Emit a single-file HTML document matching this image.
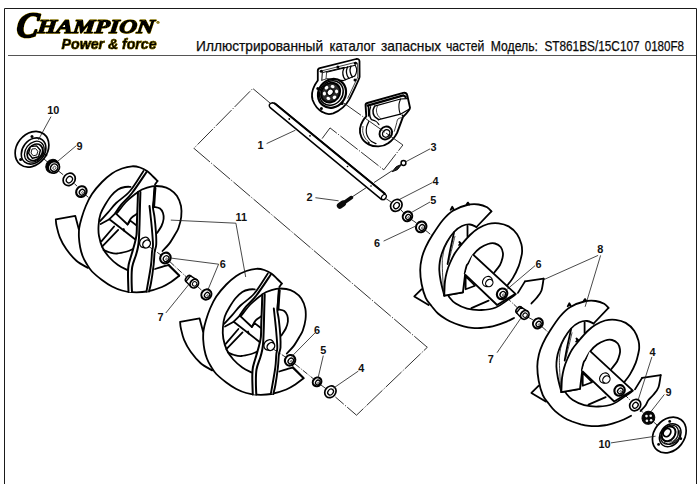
<!DOCTYPE html>
<html lang="ru">
<head>
<meta charset="utf-8">
<title>Иллюстрированный каталог запасных частей</title>
<style>
html,body{margin:0;padding:0;background:#fff;}
body{width:700px;height:484px;overflow:hidden;position:relative;font-family:"Liberation Sans",sans-serif;}
svg{position:absolute;left:0;top:0;display:block;}
.ln{fill:none;stroke:#000;stroke-width:1.8;stroke-linecap:round;stroke-linejoin:round;}
.w{fill:#fff;stroke:#000;stroke-width:1.8;stroke-linejoin:round;}
.th{fill:none;stroke:#111;stroke-width:.8;}
.dd{fill:none;stroke:#1a1a1a;stroke-width:.9;stroke-dasharray:22 1.6 1.2 1.6;}
.ax{fill:none;stroke:#1a1a1a;stroke-width:.9;stroke-dasharray:6 1.5 1 1.5;}
.lbl{font-family:"Liberation Sans",sans-serif;font-weight:bold;font-size:10.9px;fill:#111;}
.ld path{fill:none;stroke:#1a1a1a;stroke-width:.8;}
</style>
</head>
<body>
<svg width="700" height="484" viewBox="0 0 700 484">
<!-- FRAME -->
<g id="frame">
<path d="M4.5 484V8.5H696.5V484" fill="none" stroke="#1a1a1a" stroke-width="1"/>
<path d="M8 55.5H696" fill="none" stroke="#555" stroke-width="1"/>
</g>
<!-- LOGO -->
<defs>
<filter id="yglow" x="-5%" y="-20%" width="110%" height="140%">
<feMorphology in="SourceAlpha" operator="dilate" radius=".3" result="d"/>
<feFlood flood-color="#e0c000" flood-opacity=".85" result="c"/>
<feComposite in="c" in2="d" operator="in" result="g"/>
<feMerge><feMergeNode in="g"/><feMergeNode in="SourceGraphic"/></feMerge>
</filter>
</defs>
<g id="logo" filter="url(#yglow)" fill="#000" stroke="#000" stroke-linejoin="round" aria-label="CHAMPION Power &amp; force">
<title>CHAMPION Power &amp; force</title>
<text transform="translate(15.8 37.2) skewX(-6)" font-family="'Liberation Serif',serif" font-weight="bold" font-style="italic"><tspan x="0" y="0" font-size="35.5" stroke-width="2" textLength="22" lengthAdjust="spacingAndGlyphs">C</tspan><tspan x="20.8" y="-4" font-size="19.6" stroke-width="1.3" textLength="117" lengthAdjust="spacingAndGlyphs">HAMPION</tspan></text>
<text x="156.5" y="23.6" font-family="'Liberation Sans',sans-serif" font-size="4.2" stroke-width=".2">®</text>
<text x="61.6" y="49" font-family="'Liberation Sans',sans-serif" font-weight="bold" font-style="italic" font-size="14.2" stroke-width=".7" textLength="95" lengthAdjust="spacingAndGlyphs">Power &amp; force</text>
</g>
<!-- TITLE -->
<text y="51" font-family="'Liberation Sans',sans-serif" font-size="14.2" fill="#0a0a0a" stroke="#0a0a0a" stroke-width=".25"><tspan x="196.1" textLength="127" lengthAdjust="spacingAndGlyphs">Иллюстрированный</tspan> <tspan x="329.6" textLength="45.9" lengthAdjust="spacingAndGlyphs">каталог</tspan> <tspan x="381.1" textLength="60" lengthAdjust="spacingAndGlyphs">запасных</tspan> <tspan x="445.9" textLength="38.4" lengthAdjust="spacingAndGlyphs">частей</tspan> <tspan x="490.8" textLength="47.2" lengthAdjust="spacingAndGlyphs">Модель:</tspan> <tspan x="544.4" textLength="95.2" lengthAdjust="spacingAndGlyphs">ST861BS/15C107</tspan> <tspan x="644.7" textLength="39.3" lengthAdjust="spacingAndGlyphs">0180F8</tspan></text>
<!-- DRAWING -->
<g id="drawing">
<g id="construction">
<path class="dd" d="M270 103L252.8 88.5L193.9 148.3L427.3 347.3L356.5 415.2L335.4 397"/>
<path class="dd" d="M322.1 138.6L330 127.9L383.8 169.8L402.9 145"/>
<path class="dd" d="M352 197L392.4 170.5"/>
<path class="ax" d="M44 159L48.5 162.8"/>
<path class="ax" d="M58.5 171L64 175.4"/>
<path class="ax" d="M74.5 183.8L77.2 186.2"/>
<path class="ax" d="M85.6 195L88.5 197.4"/>
<path class="ax" d="M149 246.6L161 255"/>
<path class="ax" d="M170 261.8L186 276.6"/>
<path class="ax" d="M197 286L202.2 290.8"/>
<path class="ax" d="M273.5 349.2L286 357.4"/>
<path class="ax" d="M295 364L313.4 378.8"/>
<path class="ax" d="M321 385L325.6 388.4"/>
<path class="ax" d="M386 198.6L391 202"/>
<path class="ax" d="M400.5 209.4L403.6 212.8"/>
<path class="ax" d="M411.5 219.6L417 223.4"/>
<path class="ax" d="M425.6 230.4L433 236.4"/>
<path class="ax" d="M492 285.8L498 290.4"/>
<path class="ax" d="M506.5 297.4L517 307.4"/>
<path class="ax" d="M527.6 317L534 320.4"/>
<path class="ax" d="M542 326.8L548 332"/>
<path class="ax" d="M608.5 381.6L615.5 387"/>
<path class="ax" d="M624 394L630.6 400.6"/>
<path class="ax" d="M640 409.4L643 412.6"/>
<path class="ax" d="M654 422.4L657.4 425.2"/>
</g>
<g id="auger1"><path class="w" d="M75.3 215.9C75.9 218.1 78.2 226 78.8 229.3C79.4 232.7 78.6 233.1 78.8 236C79 238.9 79.4 243.7 80 247C80.6 250.3 81.2 252.5 82.5 256C83.8 259.5 87 265.9 87.9 267.9L87.9 267.9C86 266.7 80 263.8 76.4 260.7C72.8 257.6 69.2 253.2 66.4 249.3C63.6 245.4 61.4 241.3 59.8 237.4C58.2 233.5 57.3 229 56.6 226C55.9 223 55.9 220.4 55.8 219.3Z" style="stroke:none"/>
<path class="ln" d="M87.9 267.9C86 266.7 80 263.8 76.4 260.7C72.8 257.6 69.2 253.2 66.4 249.3C63.6 245.4 61.4 241.3 59.8 237.4C58.2 233.5 57.3 229 56.6 226C55.9 223 55.9 220.4 55.8 219.3L75.3 215.9L78.8 229.3"/>
<path class="w" d="M157.5 181C156.8 180.2 154.8 178.2 153 176.5C151.2 174.8 149.2 172.5 147 171C144.8 169.5 142.5 168.3 140 167.5C137.5 166.7 135 166.1 132 166.3C129 166.5 125.3 167.3 122 168.5C118.7 169.7 115.3 171.2 112 173.5C108.7 175.8 105.3 178.6 102 182C98.7 185.4 94.7 190 92 194C89.3 198 87.5 202 85.8 206C84.1 210 82.7 214.3 81.6 218C80.5 221.7 79.7 224.8 79.2 228C78.8 231.2 78.8 233.8 78.9 237C79.1 240.2 79.5 243.8 80.1 247C80.7 250.2 81.5 253.2 82.6 256C83.6 258.8 84.8 260.9 86.4 263.5C88 266.1 89.4 268.8 92 271.5C94.6 274.2 98.7 277.5 102 280C105.3 282.5 108.7 284.8 112 286.5C115.3 288.2 118.7 289.6 122 290.5C125.3 291.4 127.8 292 132 292.2C136.2 292.4 142 292.4 147 291.5C152 290.6 158 288.6 162 287C166 285.4 168.1 283.9 171 282C173.9 280.1 177.9 276.8 179.3 275.7 L168.6 265 L168.6 265C167.5 265.3 164.6 266 162 266.8C159.4 267.6 156.7 268.9 153 269.6C149.3 270.3 144.2 270.9 140 271C135.8 271.1 131.2 271 127.5 270C123.8 269 121.1 267.2 118 265C114.9 262.8 111.6 259.9 109 257C106.4 254.1 104.2 251 102.5 247.5C100.8 244 99.7 239.8 99 236C98.3 232.2 98.3 228.7 98.6 225C98.8 221.3 99.4 217.3 100.5 214C101.6 210.7 103.2 208 105 205C106.8 202 108.8 198.6 111 196C113.2 193.4 115.7 191 118 189.5C120.3 188 122.9 187.4 125 187C127.1 186.6 129.6 186.8 130.5 186.8 L155 184.5Z" style="stroke:none"/>
<path class="ln" d="M157.5 181C156.8 180.2 154.8 178.2 153 176.5C151.2 174.8 149.2 172.5 147 171C144.8 169.5 142.5 168.3 140 167.5C137.5 166.7 135 166.1 132 166.3C129 166.5 125.3 167.3 122 168.5C118.7 169.7 115.3 171.2 112 173.5C108.7 175.8 105.3 178.6 102 182C98.7 185.4 94.7 190 92 194C89.3 198 87.5 202 85.8 206C84.1 210 82.7 214.3 81.6 218C80.5 221.7 79.7 224.8 79.2 228C78.8 231.2 78.8 233.8 78.9 237C79.1 240.2 79.5 243.8 80.1 247C80.7 250.2 81.5 253.2 82.6 256C83.6 258.8 84.8 260.9 86.4 263.5C88 266.1 89.4 268.8 92 271.5C94.6 274.2 98.7 277.5 102 280C105.3 282.5 108.7 284.8 112 286.5C115.3 288.2 118.7 289.6 122 290.5C125.3 291.4 127.8 292 132 292.2C136.2 292.4 142 292.4 147 291.5C152 290.6 158 288.6 162 287C166 285.4 168.1 283.9 171 282C173.9 280.1 177.9 276.8 179.3 275.7L168.6 265"/>
<path class="ln" d="M168.6 265C167.5 265.3 164.3 266.1 162 266.8C159.7 267.5 156.2 268.6 155 269"/>
<path class="ln" d="M127.5 270C125.9 269.2 121.1 267.2 118 265C114.9 262.8 111.6 259.9 109 257C106.4 254.1 104.2 251 102.5 247.5C100.8 244 99.7 239.8 99 236C98.3 232.2 98.3 228.7 98.6 225C98.8 221.3 99.4 217.3 100.5 214C101.6 210.7 103.2 208 105 205C106.8 202 108.8 198.6 111 196C113.2 193.4 115.7 191 118 189.5C120.3 188 122.9 187.4 125 187C127.1 186.6 129.6 186.8 130.5 186.8"/>
<path class="ln" d="M157.5 181L155 184.5"/>
<path class="ln" d="M103.5 250C104.6 250.4 107.8 251.9 110 252.5C112.2 253.1 114.2 253.7 117 253.5C119.8 253.3 124.3 252.2 127 251.5C129.7 250.8 132 249.4 133 249"/>
<path class="ln" d="M143.5 171C141.2 174.3 134.6 185.7 130 191C125.5 196.3 119.9 199.4 116.2 203C112.5 206.6 110.8 209.4 108.1 212.4C105.4 215.4 101.3 219.7 100 221.2"/>
<path class="ln" d="M146.5 172C144.1 175.5 136.2 187.6 132 193C127.8 198.4 124.2 201.1 121.5 204.4C118.8 207.7 116.5 211.4 115.5 212.8" style="stroke-width:2"/>
<path class="ln" d="M109.4 219.2L100.7 224"/>
<path class="ln" d="M127.6 224.5L115.5 213.1L109.4 219.2L135 239.3"/>
<path class="ln" d="M127.6 224.5L130.3 220.6L136.3 225.2"/>
<path class="ln" d="M128 223.6C128.6 222.6 129.9 219.4 131.4 217.8C132.9 216.2 136.1 214.5 137 213.8"/>
<path class="ln" d="M123.7 229L124.4 231" style="stroke-width:1.8"/>
<path class="ln" d="M101.4 241.3L114.1 226.5"/>
<path class="ln" d="M102.1 246.7L118.2 229.9"/>
<path class="ln" d="M117 213C118.5 211.2 123.2 205 126 202C128.8 199 131.3 197.1 134 195C136.7 192.9 139 190.9 142 189.5C145 188.1 148.7 186.8 152 186.3C155.3 185.8 159 186 162 186.5C165 187 167.5 187.9 170 189.5C172.5 191.1 175.2 193.2 177 196C178.8 198.8 180.3 202.5 181 206C181.7 209.5 181.6 213.3 181.2 217C180.8 220.7 179.5 225.1 178.5 228C177.5 230.9 176.5 231.9 175 234.5C173.5 237.1 171.4 240.8 169.3 243.6C167.2 246.3 163.6 249.8 162.5 251"/>
<path class="ln" d="M154.5 207C155.4 207.2 158.6 207.5 160 208.5C161.4 209.5 162.4 211.2 163 213C163.6 214.8 163.8 216.8 163.6 219C163.3 221.2 162.6 223.7 161.5 226C160.4 228.3 157.8 231.8 157 233"/>
<path class="w" d="M138 192C137.9 194.2 137.8 200.3 137.6 205C137.4 209.7 137.2 215 137 220C136.8 225 137 230.7 136.5 235C136 239.3 134.8 243 134 246C133.2 249 132.9 249.8 132 253C131.1 256.2 129.3 261.3 128.6 265C127.9 268.7 128 270.5 128 275C128 279.5 128.4 289.2 128.5 292L132 292C131.9 290 131.6 284.2 131.6 280C131.6 275.8 131.5 271.2 132.2 267C132.9 262.8 135 258.3 136 255C137 251.7 137.5 249.8 138 247C138.5 244.2 138.8 241.7 139 238C139.2 234.3 139.3 230.5 139.5 225C139.7 219.5 139.8 210.5 140 205C140.2 199.5 140.3 194.2 140.4 192Z" style="stroke:none"/>
<path class="ln" d="M138 192C137.9 194.2 137.8 200.3 137.6 205C137.4 209.7 137.2 215 137 220C136.8 225 137 230.7 136.5 235C136 239.3 134.8 243 134 246C133.2 249 132.9 249.8 132 253C131.1 256.2 129.3 261.3 128.6 265C127.9 268.7 128 270.5 128 275C128 279.5 128.4 289.2 128.5 292" style="stroke-width:2"/>
<path class="ln" d="M140.4 192C140.3 194.2 140.2 199.5 140 205C139.8 210.5 139.7 219.5 139.5 225C139.3 230.5 139.2 234.3 139 238C138.8 241.7 138.5 244.2 138 247C137.5 249.8 137 251.7 136 255C135 258.3 132.9 262.8 132.2 267C131.5 271.2 131.6 275.8 131.6 280C131.6 284.2 131.9 290 132 292" style="stroke-width:2"/>
<path class="w" d="M149.5 206C149.7 207.5 150.1 211 150.5 215C150.9 219 151.6 225 152 230C152.4 235 153 241.3 153 245C153 248.7 152.3 248.7 152 252C151.7 255.3 151.7 259.8 151 265C150.3 270.2 148.8 278.6 148 283C147.2 287.4 146.8 290.1 146.5 291.5L149 291.5C149.3 290.1 150.2 287.4 151 283C151.8 278.6 153 270.2 153.6 265C154.2 259.8 154.2 255.3 154.6 252C155 248.7 156 248.2 156.2 245C156.4 241.8 156.3 237.7 156 233C155.7 228.3 155 221.2 154.5 217C154 212.8 153.2 210.8 153 208C152.8 205.2 153.3 203.4 153.6 200C153.8 196.6 154.3 189.6 154.5 187.5Z" style="stroke:none"/>
<path class="ln" d="M154.5 187.5C154.3 189.6 153.8 196.6 153.6 200C153.3 203.4 152.8 205.2 153 208C153.2 210.8 154 212.8 154.5 217C155 221.2 155.7 228.3 156 233C156.3 237.7 156.4 241.8 156.2 245C156 248.2 155 248.7 154.6 252C154.2 255.3 154.2 259.8 153.6 265C153 270.2 151.8 278.6 151 283C150.2 287.4 149.3 290.1 149 291.5" style="stroke-width:1.9"/>
<path class="ln" d="M155.2 188C155 190 154.5 196.8 154.3 200C154.1 203.2 153.9 205.8 153.8 207" style="stroke-width:2.5"/>
<path class="ln" d="M149.5 206C149.7 207.5 150.1 211 150.5 215C150.9 219 151.6 225 152 230C152.4 235 153 241.3 153 245C153 248.7 152.3 248.7 152 252C151.7 255.3 151.7 259.8 151 265C150.3 270.2 148.8 278.6 148 283C147.2 287.4 146.8 290.1 146.5 291.5" style="stroke-width:1.9"/>
<path class="ln" d="M168.6 265L179.3 275.7"/>
<ellipse class="w" cx="144.6" cy="242.4" rx="4.7" ry="5.5" transform="rotate(39.5 144.6 242.4)" style="stroke-width:1.3"/>
<ellipse class="w" cx="146.6" cy="244" rx="3.5" ry="4.2" transform="rotate(39.5 146.6 244)" style="stroke-width:1.4"/></g>
<g id="auger2" transform="translate(124.3 102.5)"><path class="w" d="M75.3 215.9C75.9 218.1 78.2 226 78.8 229.3C79.4 232.7 78.6 233.1 78.8 236C79 238.9 79.4 243.7 80 247C80.6 250.3 81.2 252.5 82.5 256C83.8 259.5 87 265.9 87.9 267.9L87.9 267.9C86 266.7 80 263.8 76.4 260.7C72.8 257.6 69.2 253.2 66.4 249.3C63.6 245.4 61.4 241.3 59.8 237.4C58.2 233.5 57.3 229 56.6 226C55.9 223 55.9 220.4 55.8 219.3Z" style="stroke:none"/>
<path class="ln" d="M87.9 267.9C86 266.7 80 263.8 76.4 260.7C72.8 257.6 69.2 253.2 66.4 249.3C63.6 245.4 61.4 241.3 59.8 237.4C58.2 233.5 57.3 229 56.6 226C55.9 223 55.9 220.4 55.8 219.3L75.3 215.9L78.8 229.3"/>
<path class="w" d="M157.5 181C156.8 180.2 154.8 178.2 153 176.5C151.2 174.8 149.2 172.5 147 171C144.8 169.5 142.5 168.3 140 167.5C137.5 166.7 135 166.1 132 166.3C129 166.5 125.3 167.3 122 168.5C118.7 169.7 115.3 171.2 112 173.5C108.7 175.8 105.3 178.6 102 182C98.7 185.4 94.7 190 92 194C89.3 198 87.5 202 85.8 206C84.1 210 82.7 214.3 81.6 218C80.5 221.7 79.7 224.8 79.2 228C78.8 231.2 78.8 233.8 78.9 237C79.1 240.2 79.5 243.8 80.1 247C80.7 250.2 81.5 253.2 82.6 256C83.6 258.8 84.8 260.9 86.4 263.5C88 266.1 89.4 268.8 92 271.5C94.6 274.2 98.7 277.5 102 280C105.3 282.5 108.7 284.8 112 286.5C115.3 288.2 118.7 289.6 122 290.5C125.3 291.4 127.8 292 132 292.2C136.2 292.4 142 292.4 147 291.5C152 290.6 158 288.6 162 287C166 285.4 168.1 283.9 171 282C173.9 280.1 177.9 276.8 179.3 275.7 L168.6 265 L168.6 265C167.5 265.3 164.6 266 162 266.8C159.4 267.6 156.7 268.9 153 269.6C149.3 270.3 144.2 270.9 140 271C135.8 271.1 131.2 271 127.5 270C123.8 269 121.1 267.2 118 265C114.9 262.8 111.6 259.9 109 257C106.4 254.1 104.2 251 102.5 247.5C100.8 244 99.7 239.8 99 236C98.3 232.2 98.3 228.7 98.6 225C98.8 221.3 99.4 217.3 100.5 214C101.6 210.7 103.2 208 105 205C106.8 202 108.8 198.6 111 196C113.2 193.4 115.7 191 118 189.5C120.3 188 122.9 187.4 125 187C127.1 186.6 129.6 186.8 130.5 186.8 L155 184.5Z" style="stroke:none"/>
<path class="ln" d="M157.5 181C156.8 180.2 154.8 178.2 153 176.5C151.2 174.8 149.2 172.5 147 171C144.8 169.5 142.5 168.3 140 167.5C137.5 166.7 135 166.1 132 166.3C129 166.5 125.3 167.3 122 168.5C118.7 169.7 115.3 171.2 112 173.5C108.7 175.8 105.3 178.6 102 182C98.7 185.4 94.7 190 92 194C89.3 198 87.5 202 85.8 206C84.1 210 82.7 214.3 81.6 218C80.5 221.7 79.7 224.8 79.2 228C78.8 231.2 78.8 233.8 78.9 237C79.1 240.2 79.5 243.8 80.1 247C80.7 250.2 81.5 253.2 82.6 256C83.6 258.8 84.8 260.9 86.4 263.5C88 266.1 89.4 268.8 92 271.5C94.6 274.2 98.7 277.5 102 280C105.3 282.5 108.7 284.8 112 286.5C115.3 288.2 118.7 289.6 122 290.5C125.3 291.4 127.8 292 132 292.2C136.2 292.4 142 292.4 147 291.5C152 290.6 158 288.6 162 287C166 285.4 168.1 283.9 171 282C173.9 280.1 177.9 276.8 179.3 275.7L168.6 265"/>
<path class="ln" d="M168.6 265C167.5 265.3 164.3 266.1 162 266.8C159.7 267.5 156.2 268.6 155 269"/>
<path class="ln" d="M127.5 270C125.9 269.2 121.1 267.2 118 265C114.9 262.8 111.6 259.9 109 257C106.4 254.1 104.2 251 102.5 247.5C100.8 244 99.7 239.8 99 236C98.3 232.2 98.3 228.7 98.6 225C98.8 221.3 99.4 217.3 100.5 214C101.6 210.7 103.2 208 105 205C106.8 202 108.8 198.6 111 196C113.2 193.4 115.7 191 118 189.5C120.3 188 122.9 187.4 125 187C127.1 186.6 129.6 186.8 130.5 186.8"/>
<path class="ln" d="M157.5 181L155 184.5"/>
<path class="ln" d="M103.5 250C104.6 250.4 107.8 251.9 110 252.5C112.2 253.1 114.2 253.7 117 253.5C119.8 253.3 124.3 252.2 127 251.5C129.7 250.8 132 249.4 133 249"/>
<path class="ln" d="M143.5 171C141.2 174.3 134.6 185.7 130 191C125.5 196.3 119.9 199.4 116.2 203C112.5 206.6 110.8 209.4 108.1 212.4C105.4 215.4 101.3 219.7 100 221.2"/>
<path class="ln" d="M146.5 172C144.1 175.5 136.2 187.6 132 193C127.8 198.4 124.2 201.1 121.5 204.4C118.8 207.7 116.5 211.4 115.5 212.8" style="stroke-width:2"/>
<path class="ln" d="M109.4 219.2L100.7 224"/>
<path class="ln" d="M127.6 224.5L115.5 213.1L109.4 219.2L135 239.3"/>
<path class="ln" d="M127.6 224.5L130.3 220.6L136.3 225.2"/>
<path class="ln" d="M128 223.6C128.6 222.6 129.9 219.4 131.4 217.8C132.9 216.2 136.1 214.5 137 213.8"/>
<path class="ln" d="M123.7 229L124.4 231" style="stroke-width:1.8"/>
<path class="ln" d="M101.4 241.3L114.1 226.5"/>
<path class="ln" d="M102.1 246.7L118.2 229.9"/>
<path class="ln" d="M117 213C118.5 211.2 123.2 205 126 202C128.8 199 131.3 197.1 134 195C136.7 192.9 139 190.9 142 189.5C145 188.1 148.7 186.8 152 186.3C155.3 185.8 159 186 162 186.5C165 187 167.5 187.9 170 189.5C172.5 191.1 175.2 193.2 177 196C178.8 198.8 180.3 202.5 181 206C181.7 209.5 181.6 213.3 181.2 217C180.8 220.7 179.5 225.1 178.5 228C177.5 230.9 176.5 231.9 175 234.5C173.5 237.1 171.4 240.8 169.3 243.6C167.2 246.3 163.6 249.8 162.5 251"/>
<path class="ln" d="M154.5 207C155.4 207.2 158.6 207.5 160 208.5C161.4 209.5 162.4 211.2 163 213C163.6 214.8 163.8 216.8 163.6 219C163.3 221.2 162.6 223.7 161.5 226C160.4 228.3 157.8 231.8 157 233"/>
<path class="w" d="M138 192C137.9 194.2 137.8 200.3 137.6 205C137.4 209.7 137.2 215 137 220C136.8 225 137 230.7 136.5 235C136 239.3 134.8 243 134 246C133.2 249 132.9 249.8 132 253C131.1 256.2 129.3 261.3 128.6 265C127.9 268.7 128 270.5 128 275C128 279.5 128.4 289.2 128.5 292L132 292C131.9 290 131.6 284.2 131.6 280C131.6 275.8 131.5 271.2 132.2 267C132.9 262.8 135 258.3 136 255C137 251.7 137.5 249.8 138 247C138.5 244.2 138.8 241.7 139 238C139.2 234.3 139.3 230.5 139.5 225C139.7 219.5 139.8 210.5 140 205C140.2 199.5 140.3 194.2 140.4 192Z" style="stroke:none"/>
<path class="ln" d="M138 192C137.9 194.2 137.8 200.3 137.6 205C137.4 209.7 137.2 215 137 220C136.8 225 137 230.7 136.5 235C136 239.3 134.8 243 134 246C133.2 249 132.9 249.8 132 253C131.1 256.2 129.3 261.3 128.6 265C127.9 268.7 128 270.5 128 275C128 279.5 128.4 289.2 128.5 292" style="stroke-width:2"/>
<path class="ln" d="M140.4 192C140.3 194.2 140.2 199.5 140 205C139.8 210.5 139.7 219.5 139.5 225C139.3 230.5 139.2 234.3 139 238C138.8 241.7 138.5 244.2 138 247C137.5 249.8 137 251.7 136 255C135 258.3 132.9 262.8 132.2 267C131.5 271.2 131.6 275.8 131.6 280C131.6 284.2 131.9 290 132 292" style="stroke-width:2"/>
<path class="w" d="M149.5 206C149.7 207.5 150.1 211 150.5 215C150.9 219 151.6 225 152 230C152.4 235 153 241.3 153 245C153 248.7 152.3 248.7 152 252C151.7 255.3 151.7 259.8 151 265C150.3 270.2 148.8 278.6 148 283C147.2 287.4 146.8 290.1 146.5 291.5L149 291.5C149.3 290.1 150.2 287.4 151 283C151.8 278.6 153 270.2 153.6 265C154.2 259.8 154.2 255.3 154.6 252C155 248.7 156 248.2 156.2 245C156.4 241.8 156.3 237.7 156 233C155.7 228.3 155 221.2 154.5 217C154 212.8 153.2 210.8 153 208C152.8 205.2 153.3 203.4 153.6 200C153.8 196.6 154.3 189.6 154.5 187.5Z" style="stroke:none"/>
<path class="ln" d="M154.5 187.5C154.3 189.6 153.8 196.6 153.6 200C153.3 203.4 152.8 205.2 153 208C153.2 210.8 154 212.8 154.5 217C155 221.2 155.7 228.3 156 233C156.3 237.7 156.4 241.8 156.2 245C156 248.2 155 248.7 154.6 252C154.2 255.3 154.2 259.8 153.6 265C153 270.2 151.8 278.6 151 283C150.2 287.4 149.3 290.1 149 291.5" style="stroke-width:1.9"/>
<path class="ln" d="M155.2 188C155 190 154.5 196.8 154.3 200C154.1 203.2 153.9 205.8 153.8 207" style="stroke-width:2.5"/>
<path class="ln" d="M149.5 206C149.7 207.5 150.1 211 150.5 215C150.9 219 151.6 225 152 230C152.4 235 153 241.3 153 245C153 248.7 152.3 248.7 152 252C151.7 255.3 151.7 259.8 151 265C150.3 270.2 148.8 278.6 148 283C147.2 287.4 146.8 290.1 146.5 291.5" style="stroke-width:1.9"/>
<path class="ln" d="M168.6 265L179.3 275.7"/>
<ellipse class="w" cx="144.6" cy="242.4" rx="4.7" ry="5.5" transform="rotate(39.5 144.6 242.4)" style="stroke-width:1.3"/>
<ellipse class="w" cx="146.6" cy="244" rx="3.5" ry="4.2" transform="rotate(39.5 146.6 244)" style="stroke-width:1.4"/></g>
<g id="auger3"><path class="ln" d="M421.4 289.3L414.3 296.4L428.6 305"/>
<path class="w" d="M491.4 211.4C490.7 210.7 489.2 208.5 487.1 207.3C485 206.2 481.9 204.9 478.6 204.5C475.3 204.1 471.4 204 467.1 205C462.8 206 456.9 208.2 452.9 210.7C448.9 213.2 446.2 216.1 442.9 220C439.6 223.9 435.8 229.8 432.9 234.3C430 238.8 427.5 243.2 425.7 247.1C423.9 251 422.7 254.2 421.8 258C420.9 261.8 420.2 265.7 420.2 270C420.2 274.3 420.7 279.4 421.6 284C422.5 288.6 424.1 294.2 425.7 297.9C427.3 301.6 429.4 303.4 431.5 306C433.6 308.6 435.5 311.2 438 313.5C440.5 315.8 443.7 317.8 446.5 319.5C449.3 321.2 452.1 322.4 455 323.5C457.9 324.6 460.9 325.6 463.7 326.3C466.5 327 469.1 327.5 472 327.8C474.9 328.1 478.1 328.1 480.9 328C483.7 327.9 486.5 327.4 489 327C491.5 326.6 493.1 326.3 496 325.4C498.9 324.5 503.7 322.8 506.7 321.6C509.7 320.4 512.8 318.6 514 318L478.6 225.7Z" style="stroke:none"/>
<path class="ln" d="M491.4 211.4C490.7 210.7 489.2 208.5 487.1 207.3C485 206.2 481.9 204.9 478.6 204.5C475.3 204.1 471.4 204 467.1 205C462.8 206 456.9 208.2 452.9 210.7C448.9 213.2 446.2 216.1 442.9 220C439.6 223.9 435.8 229.8 432.9 234.3C430 238.8 427.5 243.2 425.7 247.1C423.9 251 422.7 254.2 421.8 258C420.9 261.8 420.2 265.7 420.2 270C420.2 274.3 420.7 279.4 421.6 284C422.5 288.6 424.1 294.2 425.7 297.9C427.3 301.6 429.4 303.4 431.5 306C433.6 308.6 435.5 311.2 438 313.5C440.5 315.8 443.7 317.8 446.5 319.5C449.3 321.2 452.1 322.4 455 323.5C457.9 324.6 460.9 325.6 463.7 326.3C466.5 327 469.1 327.5 472 327.8C474.9 328.1 478.1 328.1 480.9 328C483.7 327.9 486.5 327.4 489 327C491.5 326.6 493.1 326.3 496 325.4C498.9 324.5 503.7 322.8 506.7 321.6C509.7 320.4 512.8 318.6 514 318"/>
<path class="ln" d="M491.4 211.4L476.5 227"/>
<path class="ln" d="M450.6 209.8L452.2 206.8L453.6 209.3" style="fill:#111"/>
<path class="ln" d="M466.6 204.6L467.9 202.6L469.2 204.6" style="fill:#111"/>
<path class="ln" d="M476.5 227C475.4 226.6 472.4 224.7 470 224.5C467.6 224.3 464.7 224.8 462 226C459.3 227.2 456.5 229.3 454 232C451.5 234.7 449 238.5 447 242C445 245.5 443.2 249.7 442 253C440.8 256.3 440.2 259.2 439.8 262C439.4 264.8 439.2 266.8 439.3 270C439.4 273.2 439.9 276.7 440.7 281C441.5 285.3 443.7 293.2 444.3 295.7"/>
<path class="ln" d="M444.3 295.7L462.9 292.4L465 275"/>
<path class="ln" d="M467.5 226L467.5 236.5"/>
<path class="ln" d="M459.3 242L461.5 244L459 245" style="fill:#111"/>
<path class="ln" d="M517.9 292.9L525 281.4"/>
<path class="ln" d="M525 281.4L543.6 278.6" style="stroke-width:1.8"/>
<path class="ln" d="M543.6 278.6C543.2 280.6 542.6 287.5 541.4 290.7C540.2 293.9 538.2 295.9 536.5 298C534.8 300.1 532.2 302.6 531.4 303.5"/>
<path class="ln" d="M446 291C446.6 292.1 447.9 295.4 449.5 297.5C451.1 299.6 452.8 301.8 455.7 303.6C458.6 305.5 462.8 307.5 467.1 308.6C471.4 309.7 476.6 310.2 481.4 310C486.2 309.8 491.2 309.3 495.7 307.5C500.2 305.7 505.3 301.5 508.6 299.3C511.9 297.1 514.5 295.1 515.7 294.3"/>
<path class="ln" d="M471.4 308.1L488.6 300.7"/>
<path class="w" d="M507.1 285.7C508.1 284.4 511 281.1 512.9 277.9C514.8 274.7 517.2 269.9 518.6 266.4C520 262.9 520.6 259.5 521.2 257C521.8 254.5 522.1 253.5 522.1 251.4C522.1 249.3 522.2 247.2 521.4 244.3C520.6 241.5 519.2 237.3 517.1 234.3C515 231.3 511.7 228.2 508.6 226.4C505.5 224.6 502 223.7 498.6 223.3C495.2 222.9 491.4 223.1 488 224C484.6 224.9 481 226.7 478 228.5C475 230.3 472.7 232.4 470 235C467.3 237.6 464.5 241 462 244C459.5 247 457 249.8 455 253C453 256.2 451.4 259.8 450 263C448.6 266.2 447.6 269 446.8 272C446 275 445.4 278.2 445 281C444.6 283.8 444.6 286.6 444.5 289C444.4 291.4 444.3 294.6 444.3 295.7L462.9 292.4L465 275L464.7 273.6C465 272.3 465.9 267.8 466.5 266C467.1 264.2 467.4 264.8 468.5 263C469.6 261.2 471.1 257.5 473 255C474.9 252.5 477.5 249.8 480 248C482.5 246.2 485.5 244.8 488 244C490.5 243.2 492.9 243 495 243.5C497.1 244 499.4 245.4 500.7 247C502 248.6 502.6 251.1 502.9 252.9C503.2 254.7 503 256 502.5 258C502 260 501.4 262.6 500 265C498.6 267.4 495.2 271.2 494.3 272.5Z" style="stroke:none"/>
<path class="ln" d="M507.1 285.7C508.1 284.4 511 281.1 512.9 277.9C514.8 274.7 517.2 269.9 518.6 266.4C520 262.9 520.6 259.5 521.2 257C521.8 254.5 522.1 253.5 522.1 251.4C522.1 249.3 522.2 247.2 521.4 244.3C520.6 241.5 519.2 237.3 517.1 234.3C515 231.3 511.7 228.2 508.6 226.4C505.5 224.6 502 223.7 498.6 223.3C495.2 222.9 491.4 223.1 488 224C484.6 224.9 481 226.7 478 228.5C475 230.3 472.7 232.4 470 235C467.3 237.6 464.5 241 462 244C459.5 247 457 249.8 455 253C453 256.2 451.4 259.8 450 263C448.6 266.2 447.6 269 446.8 272C446 275 445.4 278.2 445 281C444.6 283.8 444.6 286.6 444.5 289C444.4 291.4 444.3 294.6 444.3 295.7L462.9 292.4L465 275"/>
<path class="ln" d="M464.7 273.6C465 272.3 465.9 267.8 466.5 266C467.1 264.2 467.4 264.8 468.5 263C469.6 261.2 471.1 257.5 473 255C474.9 252.5 477.5 249.8 480 248C482.5 246.2 485.5 244.8 488 244C490.5 243.2 492.9 243 495 243.5C497.1 244 499.4 245.4 500.7 247C502 248.6 502.6 251.1 502.9 252.9C503.2 254.7 503 256 502.5 258C502 260 501.4 262.6 500 265C498.6 267.4 495.2 271.2 494.3 272.5"/>
<path class="ln" d="M454 232.5C453.4 235.2 451.5 243.8 450.4 249C449.3 254.2 448.1 261.5 447.6 264"/>
<path class="th" d="M455 236C454.4 238.3 452.7 245.7 451.6 250C450.5 254.3 449.1 260 448.6 262"/>
<path class="th" d="M453 233C451.8 234.8 447.7 240.3 446 244C444.3 247.7 443.6 251.3 443 255C442.4 258.7 442.2 259.7 442.3 266C442.4 272.3 443.4 288.5 443.6 293"/>
<path class="w" d="M472.8 254.3L515.5 293.8L497.1 305L465 274.3"/>
<path class="w" d="M465.7 276.4L475 285.7L465.7 289.3Z" style="stroke-width:1.6"/>
<ellipse class="w" cx="487.4" cy="281.5" rx="4.6" ry="5.4" transform="rotate(40 487.4 281.5)" style="stroke-width:1.1"/>
<ellipse class="w" cx="489.3" cy="283" rx="3.4" ry="4" transform="rotate(40 489.3 283)" style="stroke-width:1.2"/></g>
<g id="auger4" transform="translate(117.1 96.5)"><path class="ln" d="M421.4 289.3L414.3 296.4L428.6 305"/>
<path class="w" d="M491.4 211.4C490.7 210.7 489.2 208.5 487.1 207.3C485 206.2 481.9 204.9 478.6 204.5C475.3 204.1 471.4 204 467.1 205C462.8 206 456.9 208.2 452.9 210.7C448.9 213.2 446.2 216.1 442.9 220C439.6 223.9 435.8 229.8 432.9 234.3C430 238.8 427.5 243.2 425.7 247.1C423.9 251 422.7 254.2 421.8 258C420.9 261.8 420.2 265.6 420.2 270C420.2 274.4 420.7 279.6 421.6 284.4C422.5 289.2 424.1 294.9 425.7 298.7C427.3 302.4 429.4 304.3 431.5 307C433.6 309.7 435.5 312.4 438 314.7C440.5 317 443.7 319.2 446.5 320.9C449.3 322.6 452.1 323.8 455 325C457.9 326.1 460.9 327.1 463.7 327.9C466.5 328.6 469.1 329.1 472 329.4C474.9 329.7 478.1 329.7 480.9 329.6C483.7 329.5 486.5 329 489 328.6C491.5 328.1 493.1 327.9 496 326.9C498.9 326 503.7 324.3 506.7 323C509.7 321.8 512.8 319.9 514 319.3L478.6 225.7Z" style="stroke:none"/>
<path class="ln" d="M491.4 211.4C490.7 210.7 489.2 208.5 487.1 207.3C485 206.2 481.9 204.9 478.6 204.5C475.3 204.1 471.4 204 467.1 205C462.8 206 456.9 208.2 452.9 210.7C448.9 213.2 446.2 216.1 442.9 220C439.6 223.9 435.8 229.8 432.9 234.3C430 238.8 427.5 243.2 425.7 247.1C423.9 251 422.7 254.2 421.8 258C420.9 261.8 420.2 265.6 420.2 270C420.2 274.4 420.7 279.6 421.6 284.4C422.5 289.2 424.1 294.9 425.7 298.7C427.3 302.4 429.4 304.3 431.5 307C433.6 309.7 435.5 312.4 438 314.7C440.5 317 443.7 319.2 446.5 320.9C449.3 322.6 452.1 323.8 455 325C457.9 326.1 460.9 327.1 463.7 327.9C466.5 328.6 469.1 329.1 472 329.4C474.9 329.7 478.1 329.7 480.9 329.6C483.7 329.5 486.5 329 489 328.6C491.5 328.1 493.1 327.9 496 326.9C498.9 326 503.7 324.3 506.7 323C509.7 321.8 512.8 319.9 514 319.3"/>
<path class="ln" d="M491.4 211.4L476.5 227"/>
<path class="ln" d="M450.6 209.8L452.2 206.8L453.6 209.3" style="fill:#111"/>
<path class="ln" d="M466.6 204.6L467.9 202.6L469.2 204.6" style="fill:#111"/>
<path class="ln" d="M476.5 227C475.4 226.6 472.4 224.7 470 224.5C467.6 224.3 464.7 224.8 462 226C459.3 227.2 456.5 229.3 454 232C451.5 234.7 449 238.5 447 242C445 245.5 443.2 249.7 442 253C440.8 256.3 440.2 259.2 439.8 262C439.4 264.8 439.2 266.8 439.3 270C439.4 273.2 439.9 276.7 440.7 281C441.5 285.3 443.7 293.2 444.3 295.7"/>
<path class="ln" d="M444.3 295.7L462.9 292.4L465 275"/>
<path class="ln" d="M467.5 226L467.5 236.5"/>
<path class="ln" d="M459.3 242L461.5 244L459 245" style="fill:#111"/>
<path class="ln" d="M517.9 292.9L525 281.4"/>
<path class="ln" d="M525 281.4L543.6 278.6" style="stroke-width:1.8"/>
<path class="ln" d="M543.6 278.6C543.2 280.6 542.6 287.5 541.4 290.7C540.2 293.9 538.2 295.9 536.5 298C534.8 300.1 532.8 301.7 531.4 303.5C530 305.3 529.7 307.2 528.4 309C527.1 310.8 524.3 313.6 523.5 314.5"/>
<path class="ln" d="M446 291C446.6 292.1 447.9 295.4 449.5 297.5C451.1 299.6 452.8 301.8 455.7 303.6C458.6 305.5 462.8 307.5 467.1 308.6C471.4 309.7 476.6 310.2 481.4 310C486.2 309.8 491.2 309.3 495.7 307.5C500.2 305.7 505.3 301.5 508.6 299.3C511.9 297.1 514.5 295.1 515.7 294.3"/>
<path class="ln" d="M471.4 308.1L488.6 300.7"/>
<path class="w" d="M507.1 285.7C508.1 284.4 511 281.1 512.9 277.9C514.8 274.7 517.2 269.9 518.6 266.4C520 262.9 520.6 259.5 521.2 257C521.8 254.5 522.1 253.5 522.1 251.4C522.1 249.3 522.2 247.2 521.4 244.3C520.6 241.5 519.2 237.3 517.1 234.3C515 231.3 511.7 228.2 508.6 226.4C505.5 224.6 502 223.7 498.6 223.3C495.2 222.9 491.4 223.1 488 224C484.6 224.9 481 226.7 478 228.5C475 230.3 472.7 232.4 470 235C467.3 237.6 464.5 241 462 244C459.5 247 457 249.8 455 253C453 256.2 451.4 259.8 450 263C448.6 266.2 447.6 269 446.8 272C446 275 445.4 278.2 445 281C444.6 283.8 444.6 286.6 444.5 289C444.4 291.4 444.3 294.6 444.3 295.7L462.9 292.4L465 275L464.7 273.6C465 272.3 465.9 267.8 466.5 266C467.1 264.2 467.4 264.8 468.5 263C469.6 261.2 471.1 257.5 473 255C474.9 252.5 477.5 249.8 480 248C482.5 246.2 485.5 244.8 488 244C490.5 243.2 492.9 243 495 243.5C497.1 244 499.4 245.4 500.7 247C502 248.6 502.6 251.1 502.9 252.9C503.2 254.7 503 256 502.5 258C502 260 501.4 262.6 500 265C498.6 267.4 495.2 271.2 494.3 272.5Z" style="stroke:none"/>
<path class="ln" d="M507.1 285.7C508.1 284.4 511 281.1 512.9 277.9C514.8 274.7 517.2 269.9 518.6 266.4C520 262.9 520.6 259.5 521.2 257C521.8 254.5 522.1 253.5 522.1 251.4C522.1 249.3 522.2 247.2 521.4 244.3C520.6 241.5 519.2 237.3 517.1 234.3C515 231.3 511.7 228.2 508.6 226.4C505.5 224.6 502 223.7 498.6 223.3C495.2 222.9 491.4 223.1 488 224C484.6 224.9 481 226.7 478 228.5C475 230.3 472.7 232.4 470 235C467.3 237.6 464.5 241 462 244C459.5 247 457 249.8 455 253C453 256.2 451.4 259.8 450 263C448.6 266.2 447.6 269 446.8 272C446 275 445.4 278.2 445 281C444.6 283.8 444.6 286.6 444.5 289C444.4 291.4 444.3 294.6 444.3 295.7L462.9 292.4L465 275"/>
<path class="ln" d="M464.7 273.6C465 272.3 465.9 267.8 466.5 266C467.1 264.2 467.4 264.8 468.5 263C469.6 261.2 471.1 257.5 473 255C474.9 252.5 477.5 249.8 480 248C482.5 246.2 485.5 244.8 488 244C490.5 243.2 492.9 243 495 243.5C497.1 244 499.4 245.4 500.7 247C502 248.6 502.6 251.1 502.9 252.9C503.2 254.7 503 256 502.5 258C502 260 501.4 262.6 500 265C498.6 267.4 495.2 271.2 494.3 272.5"/>
<path class="ln" d="M454 232.5C453.4 235.2 451.5 243.8 450.4 249C449.3 254.2 448.1 261.5 447.6 264"/>
<path class="th" d="M455 236C454.4 238.3 452.7 245.7 451.6 250C450.5 254.3 449.1 260 448.6 262"/>
<path class="th" d="M453 233C451.8 234.8 447.7 240.3 446 244C444.3 247.7 443.6 251.3 443 255C442.4 258.7 442.2 259.7 442.3 266C442.4 272.3 443.4 288.5 443.6 293"/>
<path class="w" d="M472.8 254.3L515.5 293.8L497.1 305L465 274.3"/>
<path class="w" d="M465.7 276.4L475 285.7L465.7 289.3Z" style="stroke-width:1.6"/>
<ellipse class="w" cx="487.4" cy="281.5" rx="4.6" ry="5.4" transform="rotate(40 487.4 281.5)" style="stroke-width:1.1"/>
<ellipse class="w" cx="489.3" cy="283" rx="3.4" ry="4" transform="rotate(40 489.3 283)" style="stroke-width:1.2"/></g>
<g id="parts">
<ellipse class="w" cx="32" cy="149.2" rx="19.3" ry="15.2" transform="rotate(-52 32 149.2)" style="stroke-width:1.7;stroke:#000"/><ellipse class="w" cx="33.6" cy="151" rx="14.2" ry="11" transform="rotate(-52 33.6 151)" style="stroke-width:1.6;stroke:#000"/><ellipse class="w" cx="34.3" cy="151.7" rx="11.4" ry="8.8" transform="rotate(-52 34.3 151.7)" style="stroke-width:1.3"/><ellipse class="w" cx="34.9" cy="152.3" rx="9" ry="7" transform="rotate(-52 34.9 152.3)" style="stroke-width:1.7;stroke:#000"/>
<path class="w" d="M30.4 146.6L36.6 145.9L40.4 150.2L38.6 156.8L32.4 158.2L28.6 153.4Z" style="stroke-width:1.4"/>
<path class="w" d="M32 149L35.6 148.6L37.8 151.2L36.8 155L33.2 155.8L31 153Z" style="stroke-width:.9"/>
<circle cx="32" cy="136.6" r="1.5" fill="#000"/><circle cx="20.6" cy="159.6" r="1.5" fill="#000"/><circle cx="46.2" cy="155" r="1.2" fill="#000"/>
<ellipse class="w" cx="52.5" cy="166.2" rx="6.6" ry="7" transform="rotate(40 52.5 166.2)" style="fill:#000;stroke:#000;stroke-width:1"/><ellipse class="w" cx="53.9" cy="167.4" rx="5.5" ry="5.9" transform="rotate(40 53.9 167.4)" style="stroke:#000;stroke-width:1.6"/><ellipse class="w" cx="54.2" cy="167.7" rx="3.5" ry="3.9" transform="rotate(40 54.2 167.7)" style="stroke:#000;stroke-width:1.5"/><ellipse class="w" cx="54.4" cy="167.9" rx="1.4" ry="1.7" transform="rotate(40 54.4 167.9)" style="stroke:#222;stroke-width:.7;fill:#eee"/>
<ellipse class="w" cx="69.2" cy="179.4" rx="5.7" ry="6.6" transform="rotate(40 69.2 179.4)" style="stroke-width:1.7;stroke:#000"/><ellipse class="w" cx="69.4" cy="179.6" rx="2.8" ry="3.4" transform="rotate(40 69.4 179.6)" style="stroke-width:1.3;stroke:#000"/>
<ellipse class="w" cx="81.4" cy="191.6" rx="5" ry="5.6" transform="rotate(40 81.4 191.6)" style="stroke-width:2.1;stroke:#000"/><ellipse class="w" cx="82.1" cy="192.2" rx="2.6" ry="3" transform="rotate(40 82.1 192.2)" style="stroke-width:1.3;stroke:#000"/><ellipse class="w" cx="82.5" cy="192.6" rx="0.8" ry="1" transform="rotate(40 82.5 192.6)" style="stroke-width:.7;stroke:#333"/>
<ellipse class="w" cx="165.4" cy="258" rx="5" ry="5.6" transform="rotate(40 165.4 258)" style="stroke-width:2.1;stroke:#000"/><ellipse class="w" cx="166.1" cy="258.6" rx="2.6" ry="3" transform="rotate(40 166.1 258.6)" style="stroke-width:1.3;stroke:#000"/><ellipse class="w" cx="166.5" cy="259" rx="0.8" ry="1" transform="rotate(40 166.5 259)" style="stroke-width:.7;stroke:#333"/>
<ellipse class="w" cx="188.3" cy="278.6" rx="2.2" ry="3.6" transform="rotate(40 188.3 278.6)" style="stroke-width:1.6;stroke:#000"/><path class="w" d="M186 281.4L191.3 287.1L197.2 280.1L190.6 275.8Z" style="stroke-width:1.4;stroke:#000"/><ellipse class="w" cx="194.3" cy="283.6" rx="3.9" ry="4.6" transform="rotate(40 194.3 283.6)" style="stroke-width:1.8;stroke:#000"/><ellipse class="w" cx="194.6" cy="283.9" rx="2.1" ry="2.3" transform="rotate(40 194.6 283.9)" style="stroke-width:1"/>
<ellipse class="w" cx="206.4" cy="294.5" rx="4.8" ry="5.3" transform="rotate(40 206.4 294.5)" style="stroke-width:2.1;stroke:#000"/><ellipse class="w" cx="207.1" cy="295.1" rx="2.4" ry="2.9" transform="rotate(40 207.1 295.1)" style="stroke-width:1.3;stroke:#000"/><ellipse class="w" cx="207.5" cy="295.5" rx="0.7" ry="0.9" transform="rotate(40 207.5 295.5)" style="stroke-width:.7;stroke:#333"/>
<ellipse class="w" cx="290.1" cy="360.3" rx="5" ry="5.5" transform="rotate(40 290.1 360.3)" style="stroke-width:2.1;stroke:#000"/><ellipse class="w" cx="290.8" cy="360.9" rx="2.5" ry="3" transform="rotate(40 290.8 360.9)" style="stroke-width:1.3;stroke:#000"/><ellipse class="w" cx="291.2" cy="361.3" rx="0.8" ry="0.9" transform="rotate(40 291.2 361.3)" style="stroke-width:.7;stroke:#333"/>
<ellipse class="w" cx="317.1" cy="381.9" rx="4.1" ry="4.6" transform="rotate(40 317.1 381.9)" style="stroke-width:2.1;stroke:#000"/><ellipse class="w" cx="317.8" cy="382.5" rx="2.1" ry="2.5" transform="rotate(40 317.8 382.5)" style="stroke-width:1.3;stroke:#000"/><ellipse class="w" cx="318.2" cy="382.9" rx="0.6" ry="0.8" transform="rotate(40 318.2 382.9)" style="stroke-width:.7;stroke:#333"/>
<ellipse class="w" cx="330.4" cy="391.8" rx="5.3" ry="6.2" transform="rotate(40 330.4 391.8)" style="stroke-width:1.7;stroke:#000"/><ellipse class="w" cx="330.6" cy="392" rx="2.6" ry="3.2" transform="rotate(40 330.6 392)" style="stroke-width:1.3;stroke:#000"/>
<ellipse class="w" cx="396.3" cy="205.4" rx="5.4" ry="6.3" transform="rotate(40 396.3 205.4)" style="stroke-width:1.7;stroke:#000"/><ellipse class="w" cx="396.5" cy="205.6" rx="2.6" ry="3.3" transform="rotate(40 396.5 205.6)" style="stroke-width:1.3;stroke:#000"/>
<ellipse class="w" cx="407.5" cy="216.4" rx="4.5" ry="5" transform="rotate(40 407.5 216.4)" style="stroke-width:2.1;stroke:#000"/><ellipse class="w" cx="408.2" cy="217" rx="2.3" ry="2.7" transform="rotate(40 408.2 217)" style="stroke-width:1.3;stroke:#000"/><ellipse class="w" cx="408.6" cy="217.4" rx="0.7" ry="0.9" transform="rotate(40 408.6 217.4)" style="stroke-width:.7;stroke:#333"/>
<ellipse class="w" cx="421.2" cy="226.9" rx="5" ry="5.6" transform="rotate(40 421.2 226.9)" style="stroke-width:2.1;stroke:#000"/><ellipse class="w" cx="421.9" cy="227.5" rx="2.6" ry="3" transform="rotate(40 421.9 227.5)" style="stroke-width:1.3;stroke:#000"/><ellipse class="w" cx="422.3" cy="227.9" rx="0.8" ry="1" transform="rotate(40 422.3 227.9)" style="stroke-width:.7;stroke:#333"/>
<ellipse class="w" cx="502.1" cy="293.8" rx="5" ry="5.6" transform="rotate(40 502.1 293.8)" style="stroke-width:2.1;stroke:#000"/><ellipse class="w" cx="502.8" cy="294.4" rx="2.6" ry="3" transform="rotate(40 502.8 294.4)" style="stroke-width:1.3;stroke:#000"/><ellipse class="w" cx="503.2" cy="294.8" rx="0.8" ry="1" transform="rotate(40 503.2 294.8)" style="stroke-width:.7;stroke:#333"/>
<ellipse class="w" cx="518.8" cy="309.9" rx="2.2" ry="3.6" transform="rotate(40 518.8 309.9)" style="stroke-width:1.6;stroke:#000"/><path class="w" d="M516.5 312.7L521.8 318.4L527.7 311.4L521.1 307.1Z" style="stroke-width:1.4;stroke:#000"/><ellipse class="w" cx="524.8" cy="314.9" rx="3.9" ry="4.6" transform="rotate(40 524.8 314.9)" style="stroke-width:1.8;stroke:#000"/><ellipse class="w" cx="525.1" cy="315.2" rx="2.1" ry="2.3" transform="rotate(40 525.1 315.2)" style="stroke-width:1"/>
<ellipse class="w" cx="537.9" cy="323.4" rx="4.7" ry="5.2" transform="rotate(40 537.9 323.4)" style="stroke-width:2.1;stroke:#000"/><ellipse class="w" cx="538.6" cy="324" rx="2.4" ry="2.8" transform="rotate(40 538.6 324)" style="stroke-width:1.3;stroke:#000"/><ellipse class="w" cx="539" cy="324.4" rx="0.7" ry="0.9" transform="rotate(40 539 324.4)" style="stroke-width:.7;stroke:#333"/>
<ellipse class="w" cx="619.6" cy="390.4" rx="5" ry="5.5" transform="rotate(40 619.6 390.4)" style="stroke-width:2.1;stroke:#000"/><ellipse class="w" cx="620.3" cy="391" rx="2.5" ry="3" transform="rotate(40 620.3 391)" style="stroke-width:1.3;stroke:#000"/><ellipse class="w" cx="620.7" cy="391.4" rx="0.8" ry="0.9" transform="rotate(40 620.7 391.4)" style="stroke-width:.7;stroke:#333"/>
<ellipse class="w" cx="635.2" cy="405.1" rx="5.2" ry="6" transform="rotate(40 635.2 405.1)" style="stroke-width:1.7;stroke:#000"/><ellipse class="w" cx="635.4" cy="405.3" rx="2.5" ry="3.1" transform="rotate(40 635.4 405.3)" style="stroke-width:1.3;stroke:#000"/>
<ellipse class="w" cx="648.4" cy="417.8" rx="6.3" ry="6.6" transform="rotate(40 648.4 417.8)" style="fill:#050505;stroke:#000;stroke-width:1"/><circle cx="651.1" cy="420.3" r="1.3" fill="#f0f0f0"/><circle cx="646.9" cy="420.7" r="1.3" fill="#f0f0f0"/><circle cx="646.5" cy="416.1" r="1.3" fill="#f0f0f0"/><circle cx="650.7" cy="415.7" r="1.3" fill="#f0f0f0"/>
<ellipse class="w" cx="669.3" cy="435" rx="19.3" ry="15.2" transform="rotate(-52 669.3 435)" style="stroke-width:1.7;stroke:#000"/><ellipse class="w" cx="670.2" cy="435.2" rx="12.4" ry="9.8" transform="rotate(-52 670.2 435.2)" style="stroke-width:1.5;stroke:#000"/><ellipse class="w" cx="669.6" cy="434.7" rx="10.4" ry="8" transform="rotate(-52 669.6 434.7)" style="stroke-width:1.1"/><ellipse class="w" cx="668.6" cy="433.8" rx="8" ry="6.2" transform="rotate(-52 668.6 433.8)" style="stroke-width:2;stroke:#000"/>
<ellipse class="w" cx="667" cy="432.6" rx="4.4" ry="3.4" transform="rotate(-52 667 432.6)" style="stroke-width:1.8;stroke:#000"/>
<path class="ln" d="M664 442.6C664.9 442.9 667.6 444.5 669.5 444.4C671.4 444.3 673.9 443.3 675.5 442C677.1 440.7 678.7 438.5 679.4 436.6C680.1 434.7 679.7 431.6 679.8 430.6" style="stroke-width:1.1"/>
<path class="th" d="M666 440.6C666.8 440.8 669 442.2 670.5 442C672 441.8 673.8 440.7 675 439.6C676.2 438.5 677.1 437 677.6 435.6C678.1 434.2 677.8 432.1 677.8 431.4"/>
<circle cx="669.7" cy="421.4" r="1.4" fill="#000"/><circle cx="680.8" cy="438.7" r="1.4" fill="#000"/><circle cx="658.6" cy="444.4" r="1.4" fill="#000"/>
</g>
<g id="shaft">
<path class="w" d="M275.8 104L384.6 193.4L386 196.6L384.6 199.4L381.6 199.6L380.2 198.4L270.2 107.7C268.2 105.6 269.4 103 272.6 102.8Z" style="stroke-width:1.5;stroke:#000"/>
<path class="ln" d="M274.8 103.4L384.8 193.7" style="stroke-width:2;stroke:#000"/>
<ellipse class="w" cx="383.9" cy="197" rx="2" ry="2.9" transform="rotate(40 383.9 197)" style="stroke-width:1.2;stroke:#000"/>
<circle cx="289.3" cy="119" r=".9" fill="#000"/><circle cx="310" cy="135.8" r=".9" fill="#000"/><circle cx="347.5" cy="166.5" r=".8" fill="#000"/><circle cx="371" cy="186" r=".8" fill="#000"/>
</g>
<g id="bolt">
<path class="ln" d="M341.4 204.6L351.4 197.6" style="stroke-width:3.7;stroke:#0a0a0a;stroke-linecap:round"/>
<path class="ln" d="M339.8 205.8L343 203.5" style="stroke-width:6;stroke:#0a0a0a;stroke-linecap:round"/>
<path class="ln" d="M392.4 171.4L396.4 166.6L401.6 164.4L397.6 169.4Z" style="stroke-width:1;stroke:#000;fill:#222"/>
<circle cx="403.5" cy="163" r="2.4" fill="#fff" stroke="#000" stroke-width="1.5"/>
</g>
<g id="housing1">
<path class="w" d="M317.8 71C317.6 69.4 318.4 68.5 319.8 68.1L356.2 59C358.2 58.6 359.4 59.6 359.5 61.4L359.6 77C359.4 79 350.5 97 349.3 99.3C346.5 104.5 340 110.5 333.2 113.4C329 114.6 325 113.8 322.5 112.1C317.5 109.5 314.4 104.7 312.6 100C311.3 95.3 311.8 91 314.4 85.9C315.4 83.6 316.8 82 317.8 80.5Z" style="stroke-width:1.8;stroke:#000"/>
<path class="th" d="M319.6 71.4L356 62.2L357.6 63.2L357.8 77L347.6 98.6"/>
<path class="ln" d="M321.8 80.5L322.3 72.6L344 67.4" style="stroke-width:1"/>
<path class="th" d="M322 80.2L326 79L326.6 72.4"/>
<path class="ln" d="M326.6 72.2L355.2 65.2M326.8 78.8L343.6 80.6L354.8 75.9" style="stroke-width:1.1"/>
<path class="ln" d="M344.2 67.6C344 68.3 342.9 70.4 342.8 72C342.7 73.6 343.1 75.7 343.6 77C344.1 78.3 345.3 79.2 345.6 79.6" style="stroke-width:1.3"/>
<path class="ln" d="M347.6 66.8C347.4 67.5 346.5 69.5 346.4 71C346.3 72.5 346.8 74.4 347.2 75.6C347.6 76.8 348.7 77.9 349 78.4" style="stroke-width:1.3"/>
<path class="ln" d="M351 66C350.8 66.7 350 68.7 350 70C350 71.3 350.4 72.8 350.8 74C351.2 75.2 352.1 76.5 352.4 77" style="stroke-width:1.3"/>
<path class="ln" d="M355.2 65.2C355.4 65.8 356.4 67.7 356.6 69C356.8 70.3 356.5 71.8 356.2 73C355.9 74.2 355 75.4 354.8 75.9" style="stroke-width:1.1"/>
<ellipse class="w" cx="332" cy="93.4" rx="15" ry="13.4" transform="rotate(-52 332 93.4)" style="stroke-width:2.2;stroke:#000"/>
<ellipse class="w" cx="331.4" cy="93" rx="12.8" ry="11.2" transform="rotate(-52 331.4 93)" style="stroke-width:1.5;stroke:#000"/>
<ellipse class="w" cx="330.6" cy="92.6" rx="10.4" ry="9" transform="rotate(-52 330.6 92.6)" style="stroke-width:2;stroke:#000;fill:#2a2a2a"/>
<ellipse class="w" cx="334.5" cy="97.3" rx="2" ry="1.6" transform="rotate(140 334.5 97.3)" style="stroke:none;fill:#fff"/>
<ellipse class="w" cx="328.4" cy="98.4" rx="2" ry="1.6" transform="rotate(200 328.4 98.4)" style="stroke:none;fill:#fff"/>
<ellipse class="w" cx="324.4" cy="93.6" rx="2" ry="1.6" transform="rotate(260 324.4 93.6)" style="stroke:none;fill:#fff"/>
<ellipse class="w" cx="326.5" cy="87.7" rx="2" ry="1.6" transform="rotate(320 326.5 87.7)" style="stroke:none;fill:#fff"/>
<ellipse class="w" cx="332.6" cy="86.6" rx="2" ry="1.6" transform="rotate(380 332.6 86.6)" style="stroke:none;fill:#fff"/>
<ellipse class="w" cx="336.6" cy="91.4" rx="2" ry="1.6" transform="rotate(440 336.6 91.4)" style="stroke:none;fill:#fff"/>
<ellipse class="w" cx="330.2" cy="92.2" rx="3.4" ry="2.9" transform="rotate(-52 330.2 92.2)" style="stroke-width:1.2;stroke:#000"/>
<circle cx="321.4" cy="71.3" r="1.5" fill="#000"/>
<circle cx="337.9" cy="66.9" r="1.5" fill="#000"/>
<circle cx="355.4" cy="63.2" r="1.5" fill="#000"/>
<circle cx="355" cy="79.9" r="1.5" fill="#000"/>
<circle cx="342" cy="103.4" r="1.5" fill="#000"/>
<circle cx="321.4" cy="108.5" r="1.5" fill="#000"/>
<circle cx="317.8" cy="88.6" r="1.5" fill="#000"/>
</g>
<g id="housing2">
<path class="w" d="M365.6 105.6C365.4 104.2 366 103.4 367.4 103L403.2 92.9C405.4 92.5 406.8 93.6 407.3 95.4L410 107.6C410.2 109.6 404.5 115.5 402.9 117.1L397.1 132.9C394.5 138 391.5 141 388.6 142.9C385 145.5 382 146.3 378.6 146.4C374.5 146.5 371 145.6 368.6 144.3C364.5 142 362.5 139.5 361.4 137.1C359.8 134 359.7 131 360 128.6C360.5 125 361.8 122.5 362.9 120.7C364 118.8 365.5 117.2 366.3 116.4Z" style="stroke-width:1.9;stroke:#000"/>
<path class="ln" d="M367.6 105.6L403.4 95.4L405.8 97" style="stroke-width:2.2"/>
<path class="ln" d="M368.4 106.6L368.8 116" style="stroke-width:1.5"/>
<path class="ln" d="M374.6 106.2L400.6 99L407 98.6M378.6 119.6L400.4 114.2L408.6 109.4" style="stroke-width:1.2"/>
<path class="ln" d="M374.6 106.2C374.3 106.9 373.1 108.9 373 110.5C372.9 112.1 373.3 114.3 374.2 115.8C375.1 117.3 377.9 119 378.6 119.6" style="stroke-width:1.5"/>
<path class="th" d="M377.8 105.4C377.6 106.2 376.4 108.4 376.4 110C376.4 111.6 376.8 113.5 377.6 115C378.4 116.5 380.6 118.3 381.2 119"/>
<path class="ln" d="M400.6 99C400.3 99.8 399.2 102.2 399 104C398.8 105.8 399 108.3 399.2 110C399.4 111.7 400.2 113.5 400.4 114.2" style="stroke-width:1.1"/>
<path class="ln" d="M370.6 106.8C370.4 107.5 369.7 109.4 369.6 111C369.5 112.6 369.7 115.1 370 116.5C370.3 117.9 371.2 119.1 371.4 119.6" style="stroke-width:1.4"/>
<path class="ln" d="M368.8 121.6C368.4 122.5 367 125.1 366.6 127C366.2 128.9 366.1 131.2 366.4 133C366.7 134.8 367.5 136.6 368.4 138C369.3 139.4 370.3 140.7 371.6 141.6C372.9 142.5 375.3 143.3 376 143.6" style="stroke-width:1.2"/>
<path class="ln" d="M371.4 119.6C372.2 119.9 374.7 120.6 376 121.4C377.3 122.2 378.5 124.1 379 124.6" style="stroke-width:1.1"/>
<path class="th" d="M402.4 117.6C401.7 117.8 399 117.9 398 119C397 120.1 397 121.9 396.4 124C395.8 126.1 394.6 130.3 394.2 131.6"/>
<path class="th" d="M363 126C363 127 362.5 130 362.8 132C363.1 134 364 136.3 365 138C366 139.7 368.3 141.5 369 142.2"/>
<ellipse class="w" cx="385.8" cy="133" rx="6.8" ry="6" transform="rotate(-52 385.8 133)" style="stroke-width:1.9;stroke:#000"/>
<ellipse class="w" cx="386.2" cy="133.4" rx="4" ry="3.4" transform="rotate(-52 386.2 133.4)" style="stroke-width:1.4;stroke:#000"/>
<circle cx="402.6" cy="115.6" r="1" fill="#000"/><circle cx="368.8" cy="143" r="1" fill="#000"/>
</g>
<path class="dd" d="M343 102.5L402.9 145"/>
<g id="leaders" class="ld">
<path d="M51 116.6L38.4 139.8"/>
<path d="M76.4 145.6L57.6 161.4"/>
<path d="M170.8 220.1L235.9 223.2"/>
<path d="M235.9 223.2L245.7 277"/>
<path d="M171 258.1L218.6 264.2"/>
<path d="M218.6 264.2L208 289.6"/>
<path d="M188.4 285L165.8 313"/>
<path d="M314.9 333L291.7 356.5"/>
<path d="M323.3 355.6L318 378.2"/>
<path d="M358.3 371.1L333.5 388.1"/>
<path d="M266.6 143.6L295.4 130.2"/>
<path d="M315.4 197.7L338.6 200.8"/>
<path d="M430 148.9L405.3 162"/>
<path d="M432.2 182.7L399.9 199.2"/>
<path d="M430 202L410.7 212.9"/>
<path d="M415 226.4L383.6 241.1"/>
<path d="M535 265.7L507.1 289.3"/>
<path d="M497 352.7L520.7 318.4"/>
<path d="M598.1 255.4L543.9 279.6"/>
<path d="M600.6 255.4L585.1 306.8"/>
<path d="M651.9 356.9L638.3 399.5"/>
<path d="M664.3 394.5L650.7 411.9"/>
<path d="M611 442.9L655.6 436.2"/>
</g>
<g id="labels">
<text class="lbl" x="47.3" y="114.2">10</text>
<text class="lbl" x="76.6" y="149.8">9</text>
<text class="lbl" x="235.6" y="221.2">11</text>
<text class="lbl" x="219.8" y="268.2">6</text>
<text class="lbl" x="157.6" y="321.4">7</text>
<text class="lbl" x="313.9" y="333.8">6</text>
<text class="lbl" x="320.2" y="354.4">5</text>
<text class="lbl" x="358.3" y="372.2">4</text>
<text class="lbl" x="257.6" y="148.9">1</text>
<text class="lbl" x="306.4" y="201">2</text>
<text class="lbl" x="430.6" y="151.2">3</text>
<text class="lbl" x="432.6" y="184.6">4</text>
<text class="lbl" x="430.2" y="204">5</text>
<text class="lbl" x="374" y="247.2">6</text>
<text class="lbl" x="535.4" y="268.2">6</text>
<text class="lbl" x="487.8" y="362.6">7</text>
<text class="lbl" x="597.2" y="253.4">8</text>
<text class="lbl" x="649.4" y="356">4</text>
<text class="lbl" x="665.4" y="396.2">9</text>
<text class="lbl" x="598.4" y="447.8">10</text>
</g>
</g>
</svg>
</body>
</html>
